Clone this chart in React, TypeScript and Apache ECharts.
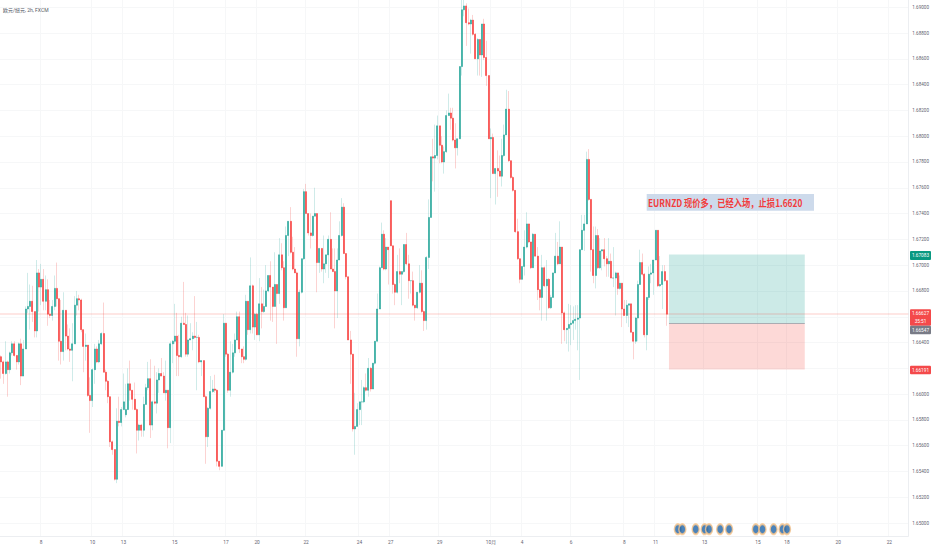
import React, { useEffect, useRef } from "react";
import * as echarts from "echarts";

// Prices are stored in units of 0.0001 (16662 = 1.6662)
const firstOpen = 16629;
const closes = [
16625,16616,16625,16619,16632,16639,16630,16625,16639,16614,
16635,16666,16668,16672,16664,16649,16694,16683,16689,16672,
16681,16662,16661,16668,16682,16674,16641,16633,16665,16645,
16635,16634,16639,16669,16674,16673,16650,16637,16638,16599,
16595,16619,16635,16625,16639,16647,16617,16610,16598,16563,
16557,16534,16579,16578,16588,16594,16588,16608,16603,16596,
16588,16572,16576,16572,16592,16605,16612,16576,16594,16593,
16611,16616,16614,16601,16603,16574,16639,16641,16645,16630,
16629,16655,16654,16631,16642,16643,16645,16644,16644,16625,
16626,16598,16567,16589,16602,16604,16603,16548,16544,16572,
16655,16631,16603,16617,16632,16642,16660,16635,16629,
16627,16672,16650,16684,16652,16662,16646,16670,16664,16668,
16680,16692,16683,16668,16685,16678,16708,16698,16667,16723,
16734,16710,16697,16694,16643,16679,16705,16757,16740,16725,
16723,16738,16740,16702,16713,16697,16701,16708,16720,16697,
16695,16680,16704,16723,16745,16709,16691,16642,16631,16573,
16575,16588,16594,16594,16605,16603,16620,16604,16624,16641,
16666,16698,16724,16697,16714,16712,16715,16685,16679,16695,
16693,16695,16716,16701,16688,16688,16669,16667,16679,16686,
16664,16657,16706,16737,16784,
16783,16785,16808,16793,16780,16788,16816,16818,16814,16797,
16791,16798,16854,16898,16901,16888,16887,16890,16879,16860,
16875,16863,16887,16861,16847,16798,16799,16771,16775,16773,
16769,16785,16801,16821,16781,16768,16758,16726,16705,16689,
16699,16714,16732,16718,16698,16724,
16707,16681,16675,16698,16684,16689,16667,16675,16694,16707,
16701,16714,16663,16650,16651,16654,16655,16657,16658,16659,
16712,16727,16732,16782,16751,16712,16692,16723,16698,16711,
16712,16705,16701,16703,16690,16690,16694,16682,16686,16666,
16661,16669,16670,16648,16641,16659,16685,16702,16693,16646,
16675,16693,16694,16704,16727,16684,16685,16695,16688,16662,
];
const highs = [
16630,16626,16641,16626,16633,16641,16641,16630,16640,16643,
16642,16668,16694,16685,16684,16664,16704,16697,16701,16697,
16692,16689,16673,16673,16692,16702,16674,16673,16679,16665,
16654,16651,16655,16676,16680,16677,16674,16650,16647,16638,
16613,16620,16639,16637,16642,16648,16671,16619,16611,16598,
16564,16557,16589,16598,16590,16616,16608,16620,16626,16603,
16609,16589,16577,16577,16598,16608,16625,16627,16595,16622,
16617,16620,16628,16617,16626,16603,16641,16642,16670,16663,
16646,16660,16687,16663,16661,16655,16648,16676,16656,16646,
16626,16626,16599,16590,16614,16611,16615,16604,16548,16572,
16662,16655,16632,16641,16639,16647,16664,16664,16635,
16637,16677,16672,16706,16685,16663,16663,16690,16683,16681,
16700,16692,16703,16683,16710,16685,16721,16717,16703,16730,
16734,16745,16722,16714,16695,16681,16705,16759,16763,16740,
16740,16738,16760,16740,16713,16713,16723,16708,16723,16741,
16713,16713,16713,16734,16752,16748,16709,16691,16649,16631,
16601,16593,16594,16611,16606,16616,16628,16621,16624,16641,
16678,16699,16733,16727,16721,16714,16750,16715,16686,16708,
16713,16695,16716,16725,16708,16688,16695,16669,16679,16700,
16696,16665,16707,16751,16784,
16798,16809,16816,16808,16800,16792,16820,16833,16822,16822,
16810,16798,16854,16906,16906,16903,16899,16891,16894,16880,
16876,16875,16887,16891,16874,16847,16806,16802,16775,16789,
16785,16798,16809,16836,16835,16781,16769,16758,16736,16705,
16699,16727,16741,16732,16718,16725,
16721,16714,16681,16708,16699,16704,16690,16677,16694,16725,
16718,16734,16714,16664,16651,16670,16669,16668,16669,16669,
16712,16739,16739,16788,16790,16750,16730,16730,16728,16721,
16712,16721,16707,16721,16709,16714,16695,16694,16692,16686,
16673,16673,16670,16670,16648,16660,16688,16712,16709,16694,
16675,16699,16701,16704,16727,16727,16707,16700,16700,16688,
];
const lows = [
16612,16608,16615,16598,16616,16630,16629,16619,16623,16607,
16619,16647,16663,16650,16656,16644,16644,16664,16669,16665,
16665,16653,16659,16657,16665,16668,16626,16623,16626,16634,
16634,16625,16610,16639,16661,16665,16648,16617,16626,16598,
16570,16590,16608,16624,16624,16638,16617,16603,16593,16559,
16553,16533,16531,16575,16575,16588,16582,16602,16595,16588,
16588,16554,16564,16567,16567,16592,16603,16566,16572,16592,
16585,16601,16614,16601,16595,16558,16562,16624,16639,16614,
16614,16628,16654,16629,16629,16642,16634,16643,16603,16624,
16614,16598,16546,16559,16588,16601,16601,16544,16541,16544,
16572,16629,16601,16598,16616,16629,16642,16632,16624,
16624,16626,16646,16647,16647,16642,16646,16641,16651,16663,
16668,16679,16657,16656,16678,16639,16670,16696,16657,16667,
16707,16709,16696,16694,16629,16637,16678,16704,16740,16723,
16713,16722,16738,16679,16694,16695,16686,16694,16690,16697,
16696,16651,16659,16704,16722,16709,16689,16642,16608,16571,
16553,16575,16576,16576,16593,16602,16598,16602,16608,16623,
16641,16666,16698,16696,16696,16685,16715,16678,16669,16678,
16686,16669,16694,16700,16674,16678,16668,16657,16666,16678,
16663,16649,16650,16697,16737,
16765,16757,16782,16779,16779,16771,16787,16816,16805,16796,
16775,16785,16798,16847,16893,16870,16886,16864,16878,16860,
16847,16847,16846,16859,16839,16798,16752,16771,16747,16753,
16769,16761,16784,16801,16780,16767,16757,16725,16704,16686,
16689,16692,16713,16717,16697,16699,
16707,16673,16665,16657,16683,16657,16666,16666,16679,16696,
16700,16701,16639,16641,16639,16633,16638,16642,16650,16634,
16611,16712,16711,16732,16750,16695,16686,16682,16697,16697,
16696,16699,16691,16691,16691,16683,16661,16677,16681,16652,
16661,16655,16652,16648,16627,16639,16641,16697,16692,16644,
16634,16673,16686,16677,16704,16683,16683,16666,16687,16653,
];
// candles whose open does not sit on the previous close: [bar, open]
const gapOpens: [number, number][] = [[56, 16584], [175, 16750]];

const barCount = 408;
const xTickBars = [18, 41, 55, 78, 101, 115, 137, 161, 175, 197, 220, 234, 256, 280, 294, 316, 340, 353, 376, 399];
const xTickLabels = ["8", "10", "13", "15", "17", "20", "22", "24", "27", "29", "10月", "4", "6", "8", "11", "13", "15", "18", "20", "22"];
const yTicks = [
  1.65, 1.652, 1.654, 1.656, 1.658, 1.66, 1.662, 1.664, 1.666, 1.668, 1.67, 1.672,
  1.674, 1.676, 1.678, 1.68, 1.682, 1.684, 1.686, 1.688, 1.69,
];
const yHiddenLabels = [1.662, 1.666];

const targetPrice = 1.67083;
const entryPrice = 1.66547;
const stopPrice = 1.66191;
const lastPrice = 1.66627;
const positionStart = 300;
const positionEnd = 361;
const eventBars = [303.6, 305.6, 311.7, 315.5, 317.7, 323, 327.1, 339.3, 341.5, 347.1, 351, 352.7];
const eventPrice = 1.64953;

const UP = "#26a69a";
const DOWN = "#f8403e";
const FONT = "Roboto, 'Noto Sans CJK SC', sans-serif";
const TOP = 100;

function priceTag(top: number, height: number, fill: string, lines: string[]) {
  return {
    type: "group",
    z: TOP,
    children: [
      { type: "rect", z: TOP, shape: { x: 910, y: top, width: 21, height, r: 1 }, style: { fill } },
      ...lines.map((t, i) => ({
        type: "text",
        z: TOP + 1,
        x: 920.5,
        y: top + height / (lines.length * 2) * (2 * i + 1),
        style: {
          text: t, fill: "#fff", fontSize: 4.7, fontFamily: FONT,
          textAlign: "center", textVerticalAlign: "middle",
        },
      })),
    ],
  };
}

export default function App() {
  const ref = useRef<HTMLDivElement>(null);
  useEffect(() => {
    document.body.style.margin = "0";
    const chart = echarts.init(ref.current!, undefined, { renderer: "svg" });
    const opens = closes.map((_, i) => (i === 0 ? firstOpen : closes[i - 1]));
    gapOpens.forEach(([i, v]) => (opens[i] = v));
    const categories = Array.from({ length: barCount }, (_, i) => {
      const k = xTickBars.indexOf(i);
      return k >= 0 ? xTickLabels[k] : "";
    });
    const isTick = (i: number) => xTickBars.indexOf(i) >= 0;
    const full = closes.map((c, i) => [
      opens[i] / 1e4,
      c / 1e4,
      Math.min(lows[i], c, opens[i]) / 1e4,
      Math.max(highs[i], c, opens[i]) / 1e4,
    ]);
    const bodies = closes.map((c, i) => [
      opens[i] / 1e4,
      c / 1e4,
      Math.min(c, opens[i]) / 1e4,
      Math.max(c, opens[i]) / 1e4,
    ]);
    chart.setOption({
      animation: false,
      backgroundColor: "#ffffff",
      textStyle: { fontFamily: FONT },
      grid: { left: 0, right: 23, top: 0, bottom: 14, containLabel: false },
      xAxis: {
        type: "category",
        data: categories,
        boundaryGap: true,
        axisLine: { lineStyle: { color: "#eceef1", width: 1 } },
        axisTick: { show: false },
        axisLabel: {
          interval: (i: number) => isTick(i),
          color: "#5f6370", fontSize: 4.8, margin: 4, hideOverlap: false,
        },
        splitLine: {
          show: true,
          interval: (i: number) => isTick(i),
          lineStyle: { color: "#f6f7f8", width: 1 },
        },
      },
      yAxis: {
        type: "value",
        position: "right",
        min: 1.649,
        max: 1.69056,
        scale: true,
        axisLine: { show: true, lineStyle: { color: "#eceef1", width: 1 } },
        axisTick: { show: false, customValues: yTicks },
        axisLabel: {
          customValues: yTicks,
          color: "#5f6370", fontSize: 4.6, margin: 4,
          formatter: (v: number) =>
            yHiddenLabels.some((h) => Math.abs(h - v) < 1e-6) ? "" : v.toFixed(5),
        },
        splitLine: { show: true, lineStyle: { color: "#f6f7f8", width: 1 } },
      },
      series: [
        {
          name: "wicks",
          type: "candlestick",
          data: full,
          barWidth: 1,
          z: 3,
          itemStyle: {
            color: "rgba(38,166,154,0.22)",
            color0: "rgba(244,79,76,0.25)",
            borderColor: "rgba(38,166,154,0.22)",
            borderColor0: "rgba(244,79,76,0.25)",
            borderWidth: 1,
          },
          markArea: {
            silent: true,
            z: 2,
            data: [
              [
                { xAxis: positionStart, yAxis: targetPrice, itemStyle: { color: "rgba(0,150,136,0.2)" } },
                { xAxis: positionEnd, yAxis: entryPrice },
              ],
              [
                { xAxis: positionStart, yAxis: entryPrice, itemStyle: { color: "rgba(244,67,54,0.2)" } },
                { xAxis: positionEnd, yAxis: stopPrice },
              ],
            ],
          },
          markLine: {
            silent: true,
            symbol: "none",
            precision: 5,
            label: { show: false },
            data: [
              { yAxis: lastPrice, lineStyle: { color: "rgba(244,67,54,0.18)", width: 1.5, type: "solid" } },
              [
                { xAxis: positionStart, yAxis: entryPrice, lineStyle: { color: "#9a9ea6", width: 0.8, type: "solid" } },
                { xAxis: positionEnd, yAxis: entryPrice },
              ],
            ],
          },
        },
        {
          name: "bodies",
          type: "candlestick",
          data: bodies,
          barWidth: 1.5,
          z: 4,
          itemStyle: {
            color: UP, color0: DOWN, borderColor: UP, borderColor0: DOWN, borderWidth: 0.6,
          },
        },
        {
          name: "events",
          type: "scatter",
          data: eventBars.map((b) => [b, eventPrice]),
          symbol: "circle",
          symbolSize: [7, 10],
          z: 5,
          silent: true,
          clip: false,
          itemStyle: { color: "#1f64a8", borderColor: "#f9c78f", borderWidth: 1.8 },
        },
      ],
      graphic: [
        {
          type: "text", z: TOP, x: 3, y: 7,
          style: { text: "欧元/纽元, 2h, FXCM", fill: "#555a66", fontSize: 5, fontFamily: FONT },
        },
        { type: "rect", z: TOP, shape: { x: 646.7, y: 194, width: 167.3, height: 16.7 }, style: { fill: "#cddaeb" } },
        {
          type: "text", z: TOP + 1, x: 648, y: 202.5, scaleX: 0.83,
          style: {
            text: "EURNZD 现价多，已经入场，止损1.6620",
            fill: "#f23c3c", fontSize: 10, fontWeight: "bold",
            fontFamily: "'Noto Sans CJK SC', sans-serif",
            textVerticalAlign: "middle",
          },
        },
        priceTag(251, 9, "#089981", ["1.67083"]),
        priceTag(309.3, 16.4, "#f4494a", ["1.66627", "35:51"]),
        priceTag(325.7, 8.6, "#787b86", ["1.66547"]),
        priceTag(365.7, 8.6, "#f4494a", ["1.66191"]),
      ],
    });
    return () => chart.dispose();
  }, []);
  return <div ref={ref} style={{ width: 932, height: 550, overflow: "hidden" }} />;
}
